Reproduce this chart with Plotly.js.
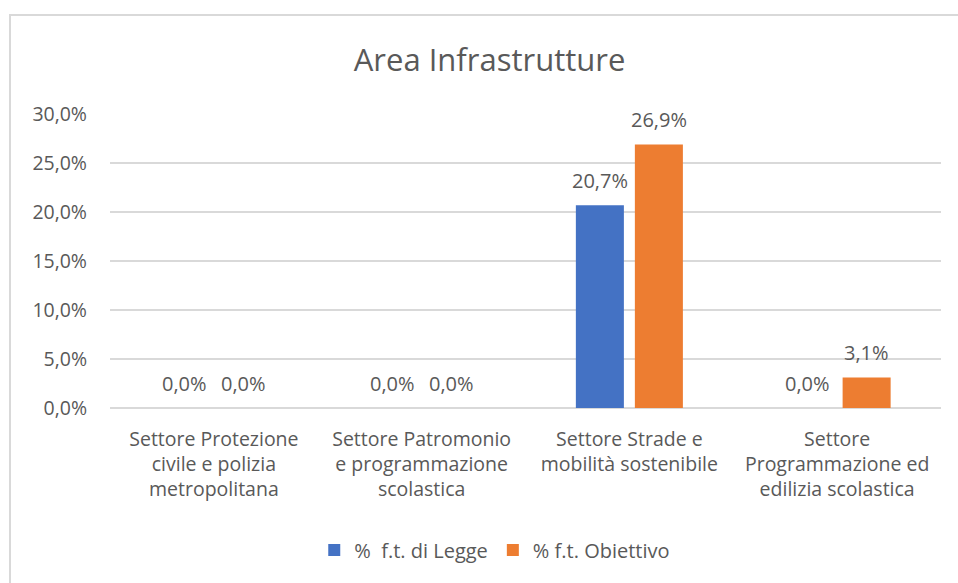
<!DOCTYPE html>
<html>
<head>
<meta charset="utf-8">
<script src="https://cdn.plot.ly/plotly-3.0.1.min.js"></script>
<style>
html,body{margin:0;padding:0;background:#fff;}
#wrap{position:relative;width:958px;height:583px;}
#chart{width:958px;height:583px;}
#frame{position:absolute;left:9px;top:14px;right:0;bottom:0;border-top:2px solid #d9d9d9;border-left:2px solid #d9d9d9;pointer-events:none;}
</style>
</head>
<body>
<div id="wrap"><div id="chart"></div><div id="frame"></div></div>
<script>
const categories = [
  "Settore Protezione<br>civile e polizia<br>metropolitana",
  "Settore Patromonio<br>e programmazione<br>scolastica",
  "Settore Strade e<br>mobilità sostenibile",
  "Settore<br>Programmazione ed<br>edilizia scolastica"
];
const seriesNames = ["%  f.t. di Legge", "% f.t. Obiettivo"];
const legge = [0.0, 0.0, 0.207, 0.0];
const obiettivo = [0.0, 0.0, 0.269, 0.031];
const tickVals = [0, 0.05, 0.10, 0.15, 0.20, 0.25, 0.30];

const FONT = "'Open Sans', sans-serif";
const GREY = "#595959";
const colors = ["#4472C4", "#ED7D31"];
const series = [legge, obiettivo];

const traces = series.map((vals, i) => ({
  type:"bar", name:seriesNames[i], x:categories, y:vals,
  marker:{color:colors[i]}, hoverinfo:"none"
}));

// data labels, placed at each bar's value
const fmt = v => (v*100).toFixed(1).replace(".", ",") + "%";
const annotations = [];
series.forEach((vals, i) => {
  vals.forEach((v, j) => {
    annotations.push({
      x: categories[j], y: v, xref:"x", yref:"y",
      text: fmt(v), showarrow:false,
      xanchor:"center", yanchor:"middle",
      xshift: (i === 0 ? -29.5 : 29.5), yshift: 25,
      font:{family:FONT, size:20, color:GREY}
    });
  });
});

const layout = {
  width:958, height:583,
  separators:",.",
  paper_bgcolor:"#fff", plot_bgcolor:"#fff",
  margin:{l:110, r:17, t:114, b:175},
  font:{family:FONT, size:20, color:GREY},
  title:{text:"Area Infrastrutture", x:0.511, xanchor:"center", y:0.897, yanchor:"middle",
         font:{family:FONT, size:31, color:GREY}},
  barmode:"group", bargap:0.432, bargroupgap:0.186,
  xaxis:{type:"category", showgrid:false, zeroline:false, showline:false, ticks:"",
         ticklabelstandoff:17,
         tickfont:{family:FONT, size:19.5, color:GREY}, fixedrange:true},
  yaxis:{range:[0,0.30], tickvals:tickVals, tickformat:".1%", showgrid:true,
         gridcolor:"#d9d9d9", gridwidth:2, zeroline:true, zerolinecolor:"#d9d9d9", zerolinewidth:2,
         showline:false, ticks:"", ticklabelstandoff:22,
         tickfont:{family:FONT, size:19.5, color:GREY}, fixedrange:true},
  annotations: annotations,
  showlegend:true,
  legend:{orientation:"h", x:0.463, xanchor:"center", y:-0.483, yanchor:"middle",
          font:{family:FONT, size:20, color:GREY}, traceorder:"normal", itemwidth:30}
};

Plotly.newPlot("chart", traces, layout, {displayModeBar:false, staticPlot:true});
</script>
</body>
</html>
